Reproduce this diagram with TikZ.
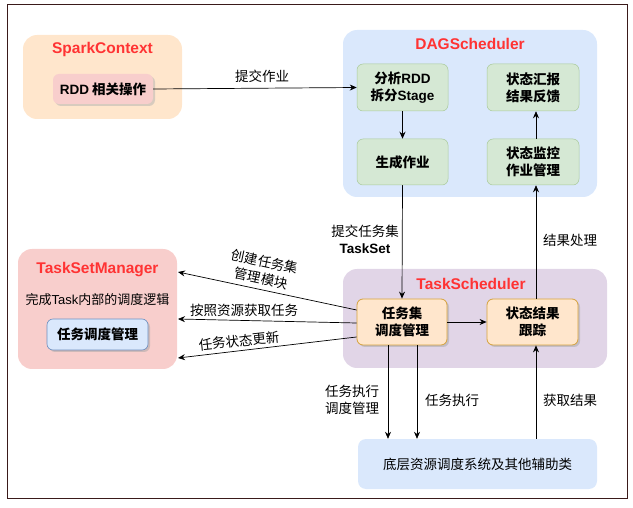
\documentclass[tikz,border=0pt]{standalone}
\usepackage{fontspec}
\setmainfont{Noto Sans CJK SC}
\newfontfamily\en{Liberation Sans}
\usetikzlibrary{arrows.meta,shadows,calc}
\definecolor{orangef}{HTML}{FFE6CC}
\definecolor{pinkf}{HTML}{F8CECC}
\definecolor{bluef}{HTML}{DAE8FC}
\definecolor{greenf}{HTML}{D5E8D4}
\definecolor{greend}{HTML}{A9C99A}
\definecolor{purplef}{HTML}{E1D5E7}
\definecolor{goldd}{HTML}{D6A23C}
\definecolor{blued}{HTML}{6C8EBF}
\definecolor{titlered}{HTML}{FF3333}
\definecolor{frame}{HTML}{3A1A1A}
\tikzset{
  group/.style={rectangle, rounded corners=14pt, draw=none, inner sep=0pt},
  title/.style={font=\en\bfseries\fontsize{15.5}{18}\selectfont, text=titlered},
  inbox/.style={rectangle, rounded corners=6pt, inner sep=0pt, align=center,
     font=\bfseries\fontsize{13.5}{17}\selectfont},
  greenbox/.style={inbox, fill=greenf, draw=greend, line width=0.5pt},
  goldbox/.style={inbox, fill=orangef, draw=goldd, line width=0.8pt,
     drop shadow={shadow xshift=2pt, shadow yshift=-2pt, fill=black!35}},
  lbl/.style={font=\fontsize{13.5}{17}\selectfont, align=center, inner sep=0pt},
  arr/.style={-{Stealth[length=7pt,width=6pt]}, line width=0.7pt, black},
}
\begin{document}
\begin{tikzpicture}[x=1pt,y=-1pt]
\useasboundingbox (0,0) rectangle (633,508);
\draw[frame, line width=1pt] (7,5) rectangle (627,498);

% SparkContext
\node[group, fill=orangef, minimum width=159pt, minimum height=84pt] (sc) at (102.5,77) {};
\node[title] (sct) at (102.5,49) {SparkContext};
\node[inbox, fill=pinkf, minimum width=100pt, minimum height=30pt,
  drop shadow={shadow xshift=2pt, shadow yshift=-2pt, fill=black!30}] (rdd) at (103,89) {{\en\bfseries RDD} 相关操作};

% DAGScheduler
\node[group, fill=bluef, minimum width=254pt, minimum height=167pt] (dag) at (470,113.5) {};
\node[title] (dagt) at (470,44) {DAGScheduler};
\node[greenbox, minimum width=91pt, minimum height=47pt] (a1) at (402.5,87.5) {分析{\en\bfseries RDD}\\拆分{\en\bfseries Stage}};
\node[greenbox, minimum width=92pt, minimum height=47pt] (a2) at (533,87.5) {状态汇报\\结果反馈};
\node[greenbox, minimum width=91pt, minimum height=46pt] (a3) at (402.5,162) {生成作业};
\node[greenbox, minimum width=92pt, minimum height=46pt] (a4) at (533,162) {状态监控\\作业管理};

% TaskScheduler
\node[group, fill=purplef, minimum width=264pt, minimum height=99pt] (ts) at (475,318.5) {};
\node[title] (tst) at (471,284) {TaskScheduler};
\node[goldbox, minimum width=90pt, minimum height=46pt] (b1) at (402,322) {任务集\\调度管理};
\node[goldbox, minimum width=91pt, minimum height=46pt] (b2) at (532.5,322) {状态结果\\跟踪};

% TaskSetManager
\node[group, fill=pinkf, minimum width=159pt, minimum height=120pt] (tsm) at (97.5,309) {};
\node[title] (tsmt) at (97.5,270) {TaskSetManager};
\node[lbl, font=\fontsize{13}{16}\selectfont] (tsmd) at (97.5,300) {完成{\en Task}内部的调度逻辑};
\node[inbox, fill=bluef, draw=blued, line width=0.6pt, minimum width=101pt, minimum height=31pt,
  drop shadow={shadow xshift=2pt, shadow yshift=-2pt, fill=black!35}] (sched) at (97.5,334.5) {任务调度管理};

% bottom
\node[rectangle, rounded corners=8pt, fill=bluef, minimum width=239pt, minimum height=50pt,
  inner sep=0pt, font=\fontsize{13.5}{17}\selectfont] (low) at (477.5,464) {底层资源调度系统及其他辅助类};

% connectors
\draw[arr] (rdd.east) -- (a1.west);
\node[lbl] (l1) at (262,76) {提交作业};
\draw[arr] (a1.south) -- (a3.north);
\draw[arr] ($(a4.north)+(3,0)$) -- ($(a2.south)+(3,0)$);
\draw[arr] (a3.south) -- (b1.north);
\node[lbl] (l2) at (365,239) {提交任务集\\{\en\bfseries TaskSet}};
\draw[arr] ($(b2.north)+(3.5,0)$) -- ($(a4.south)+(3,0)$);
\node[lbl] (l3) at (570,240) {结果处理};
\draw[arr] (b1.east) -- (b2.west);

\coordinate (e1) at (178,272);
\coordinate (e2) at (178,319);
\coordinate (e3) at (178,358);
\draw[arr] ($(b1.west)+(0,-12)$) -- (e1);
\draw[arr] ($(b1.west)+(0,1)$) -- (e2);
\draw[arr] ($(b1.west)+(0,15)$) -- (e3);
\node[lbl, rotate=-12] (l4) at (263,270) {创建任务集\\管理模块};
\node[lbl] (l5) at (244,310) {按照资源获取任务};
\node[lbl, rotate=6] (l6) at (239,341) {任务状态更新};

\draw[arr] ($(b1.south)+(-14,0)$) -- ($(low.north)+(-89.5,0)$);
\draw[arr] ($(b1.south)+(15,0)$) -- ($(low.north)+(-60.5,0)$);
\draw[arr] ($(low.north)+(58.5,0)$) -- ($(b2.south)+(3.5,0)$);
\node[lbl] (l7) at (352,400) {任务执行\\调度管理};
\node[lbl] (l8) at (452,400) {任务执行};
\node[lbl] (l9) at (570,400) {获取结果};
\end{tikzpicture}
\end{document}
